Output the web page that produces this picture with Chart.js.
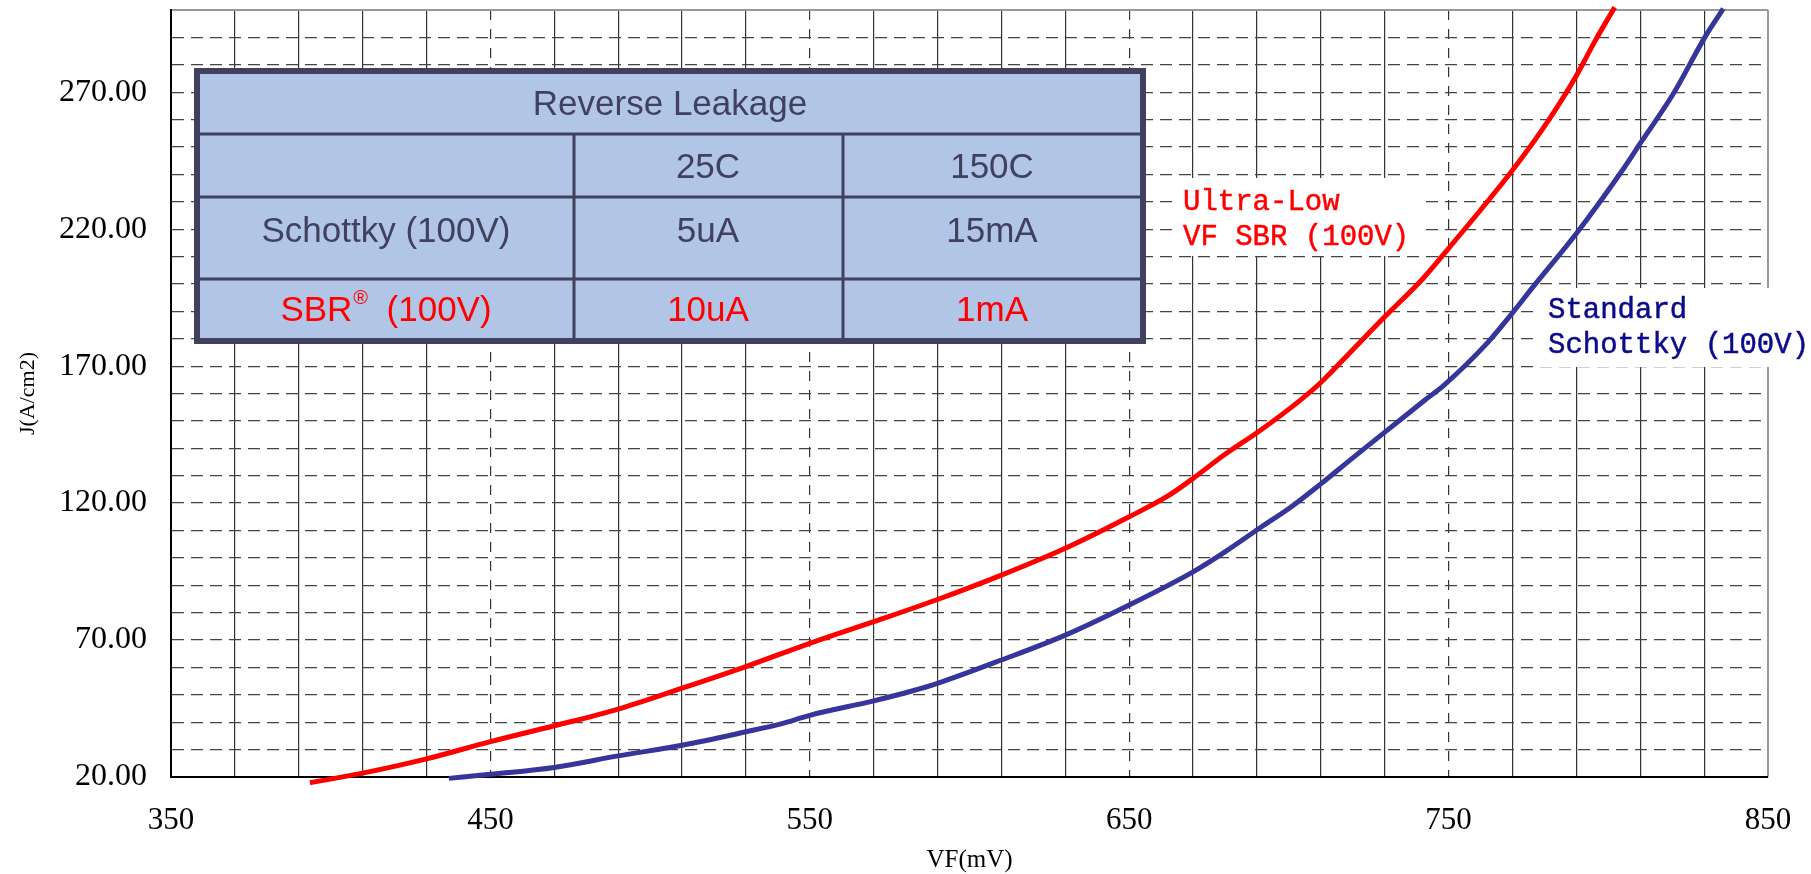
<!DOCTYPE html>
<html>
<head>
<meta charset="utf-8">
<script src="https://cdn.jsdelivr.net/npm/chart.js@4.4.0/dist/chart.umd.min.js"></script>
<style>
  html, body { margin: 0; padding: 0; background: #fff; }
  #wrap { width: 1811px; height: 874px; }
</style>
</head>
<body>
<div id="wrap"><canvas id="vfChart" width="1811" height="874"></canvas></div>
<script>
// forward voltage (mV) vs current density (A/cm2)
const sbrVF = [393.5, 410, 430, 450, 470, 490, 510, 530, 550, 570, 590, 610, 630, 650, 662, 670, 680, 691, 703.5, 710, 720, 730, 742, 750, 760, 770, 780, 790, 796, 802];
const sbrJ  = [17.9, 21.4, 26.6, 32.9, 38.7, 44.8, 52.4, 60.3, 68.8, 76.7, 84.8, 93.7, 103.5, 115, 122.5, 129, 137.8, 146.5, 157.5, 164, 176, 188, 202, 213, 227, 241.5, 257.5, 276, 289, 301];

const schottkyVF = [437, 450, 470, 490, 510, 530, 541, 550, 570, 582, 590, 610, 630, 650, 670, 680, 691, 700, 710, 720, 735, 742.6, 748.5, 762, 769, 776.5, 790, 803.7, 810, 820.4, 830.3, 836];
const schottkyJ  = [19.5, 21, 23.5, 27.7, 31.6, 36.5, 39.4, 42.5, 47.8, 51.4, 54.2, 62.7, 71.8, 82.8, 94.9, 102.2, 111, 118, 127, 136.5, 150.5, 157.6, 163, 178.3, 188, 199, 218.4, 240.3, 251.3, 269.5, 290.2, 300.5];

const xTickLabels = [350, 450, 550, 650, 750, 850];
const yTickLabels = [20, 70, 120, 170, 220, 270];
const dashedVF = [450, 550, 650, 750];

// leakage table text
const tableTitle = 'Reverse Leakage';
const tableHead = ['', '25C', '150C'];
const schottkyRow = ['Schottky (100V)', '5uA', '15mA'];
const sbrRow = ['SBR', '10uA', '1mA'];

const sbrLabel = ['Ultra-Low', 'VF SBR (100V)'];
const schottkyLabel = ['Standard', 'Schottky (100V)'];

const toPoints = (xs, ys) => xs.map((x, i) => ({ x: x, y: ys[i] }));

const serif = '"Liberation Serif", "DejaVu Serif", serif';
const sans = '"Liberation Sans", Arial, sans-serif';
const mono = '"Liberation Mono", "DejaVu Sans Mono", monospace';

// white boxes with the curve names, under the lines
const curveLabels = {
    id: 'curveLabels',
    beforeDatasetsDraw(chart) {
        const ctx = chart.ctx;
        ctx.save();
        ctx.fillStyle = '#fff';
        ctx.fillRect(1177, 178, 243, 78);
        ctx.fillRect(1540, 288, 271, 79);
        ctx.font = '29px ' + mono;
        ctx.textAlign = 'left';
        ctx.textBaseline = 'middle';
        ctx.lineWidth = 0.5;
        ctx.fillStyle = ctx.strokeStyle = '#ff0000';
        sbrLabel.forEach((t, i) => {
            ctx.fillText(t, 1183, 202 + i * 35);
            ctx.strokeText(t, 1183, 202 + i * 35);
        });
        ctx.fillStyle = ctx.strokeStyle = '#0a0a8c';
        schottkyLabel.forEach((t, i) => {
            ctx.fillText(t, 1548, 310 + i * 35);
            ctx.strokeText(t, 1548, 310 + i * 35);
        });
        ctx.restore();
    }
};

const leakageTable = {
    id: 'leakageTable',
    afterDraw(chart) {
        const ctx = chart.ctx;
        const L = 194, T = 68, R = 1146, B = 344;
        const rows = [134, 197, 279];
        const cols = [574, 843];
        const centers = [386, 708, 992];
        ctx.save();
        ctx.fillStyle = '#b1c6e6';
        ctx.fillRect(L, T, R - L, B - T);
        ctx.strokeStyle = '#41405f';
        ctx.lineWidth = 3;
        ctx.beginPath();
        rows.forEach(y => { ctx.moveTo(L, y); ctx.lineTo(R, y); });
        cols.forEach(x => { ctx.moveTo(x, rows[0]); ctx.lineTo(x, B); });
        ctx.stroke();
        ctx.lineWidth = 6;
        ctx.strokeRect(L + 3, T + 3, R - L - 6, B - T - 6);

        const big = '35px ' + sans;
        ctx.font = big;
        ctx.textAlign = 'center';
        ctx.textBaseline = 'middle';
        ctx.fillStyle = '#41405f';
        ctx.fillText(tableTitle, (L + R) / 2, 105);
        tableHead.forEach((t, i) => ctx.fillText(t, centers[i], 168));
        schottkyRow.forEach((t, i) => ctx.fillText(t, centers[i], 232));

        ctx.fillStyle = '#ff0000';
        sbrRow.slice(1).forEach((t, i) => ctx.fillText(t, centers[i + 1], 311));
        // SBR with registered mark
        const w1 = ctx.measureText(sbrRow[0]).width;
        const w3 = ctx.measureText('  (100V)').width;
        ctx.font = '20px ' + sans;
        const w2 = ctx.measureText('\u00AE').width;
        let x = centers[0] - (w1 + w2 + w3) / 2;
        ctx.textAlign = 'left';
        ctx.font = big;
        ctx.fillText(sbrRow[0], x, 311);
        x += w1;
        ctx.font = '20px ' + sans;
        ctx.fillText('\u00AE', x + 1, 298);
        x += w2;
        ctx.font = big;
        ctx.fillText('  (100V)', x, 311);
        ctx.restore();
    }
};

new Chart(document.getElementById('vfChart'), {
    type: 'line',
    data: {
        datasets: [{
            label: 'Ultra-Low VF SBR (100V)',
            data: toPoints(sbrVF, sbrJ),
            borderColor: '#ff0000',
            borderWidth: 5,
            pointRadius: 0,
            cubicInterpolationMode: 'monotone',
            clip: { left: 0, top: 8, right: 0, bottom: 12 }
        }, {
            label: 'Standard Schottky (100V)',
            data: toPoints(schottkyVF, schottkyJ),
            borderColor: '#35359b',
            borderWidth: 5,
            pointRadius: 0,
            cubicInterpolationMode: 'monotone',
            clip: { left: 0, top: 8, right: 0, bottom: 12 }
        }]
    },
    options: {
        responsive: false,
        animation: false,
        devicePixelRatio: 1,
        layout: { padding: { top: 10, right: 43, bottom: 0, left: 0 } },
        plugins: {
            legend: { display: false },
            tooltip: { enabled: false }
        },
        scales: {
            x: {
                type: 'linear',
                min: 350,
                max: 850,
                afterFit: s => { s.height = 97; s.paddingLeft = 0; s.paddingRight = 0; },
                ticks: {
                    stepSize: 20,
                    autoSkip: false,
                    maxRotation: 0,
                    padding: 25,
                    color: '#000',
                    font: { family: serif, size: 31 },
                    callback: v => xTickLabels.includes(v) ? String(v) : ''
                },
                grid: {
                    drawTicks: false,
                    color: c => (c.tick && c.tick.value === 850) ? '#999' : '#333',
                    lineWidth: c => (c.tick && c.tick.value === 850) ? 2 : 1.2
                },
                border: {
                    color: '#000',
                    width: 2,
                    dash: c => (c.tick && dashedVF.includes(c.tick.value)) ? [10, 9] : []
                },
                title: {
                    display: true,
                    text: 'VF(mV)',
                    color: '#000',
                    font: { family: serif, size: 25, lineHeight: 1 },
                    padding: { top: 0, bottom: 1 }
                }
            },
            y: {
                min: 20,
                max: 300,
                afterFit: s => { s.width = 171; s.paddingTop = 0; s.paddingBottom = 0; },
                ticks: {
                    stepSize: 10,
                    autoSkip: false,
                    padding: 24,
                    color: '#000',
                    font: { family: serif, size: 32 },
                    callback: v => yTickLabels.includes(v) ? v.toFixed(2) : ''
                },
                grid: {
                    drawTicks: false,
                    color: c => (c.tick && c.tick.value === 300) ? '#999' : '#444',
                    lineWidth: c => (c.tick && c.tick.value === 300) ? 2 : 1.2
                },
                border: {
                    color: '#000',
                    width: 2,
                    dash: c => (c.tick && c.tick.value !== 300) ? [12, 7] : []
                },
                title: {
                    display: true,
                    text: 'J(A/cm2)',
                    color: '#000',
                    font: { family: serif, size: 22, lineHeight: 1.2 },
                    padding: { top: 15, bottom: 0 }
                }
            }
        }
    },
    plugins: [curveLabels, leakageTable]
});
</script>
</body>
</html>
